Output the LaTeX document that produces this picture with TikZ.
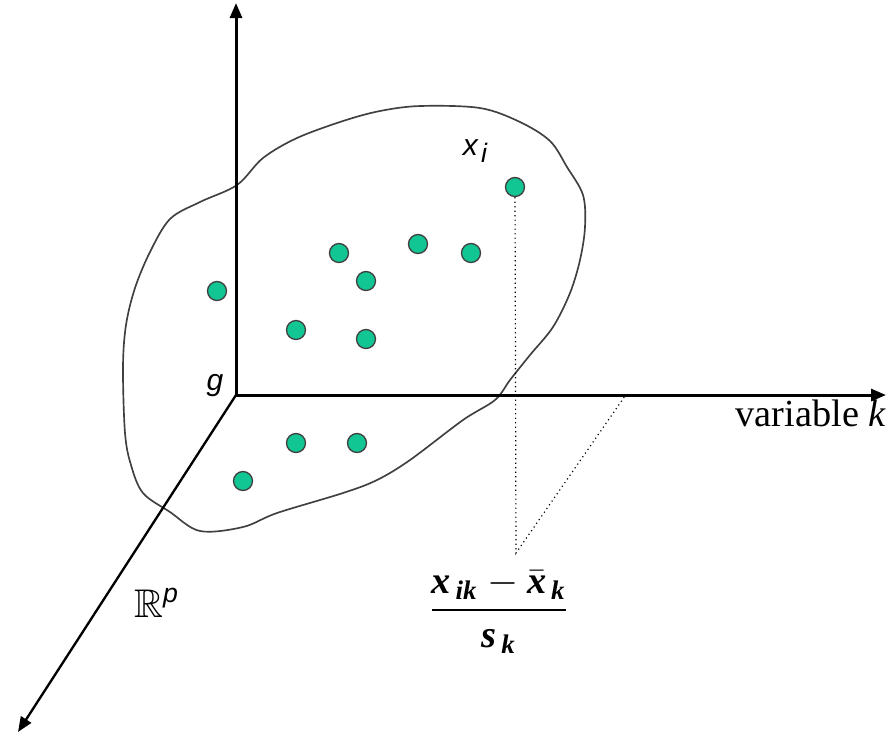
\documentclass[tikz,border=0pt]{standalone}
\usepackage{amsmath,amssymb}
\usepackage{fontspec}
\setmainfont{Liberation Serif}
\setsansfont{Liberation Sans}
\usetikzlibrary{arrows.meta}
\definecolor{dotgreen}{RGB}{18,198,148}
\newcommand{\bix}[1]{\textnormal{\bfseries\itshape #1}}

\begin{document}
\begin{tikzpicture}[x=0.3pt,y=-0.3pt,>={Triangle[length=4.5pt,width=3.6pt]},
  axis/.style={line width=0.9pt},
  pt/.style={circle,draw=black!75,line width=0.4pt,fill=dotgreen,inner sep=0pt,minimum size=5.7pt},
  proj/.style={densely dotted,line width=0.35pt},
  sanslbl/.style={font=\sffamily\itshape\fontsize{9}{10}\selectfont}]
  \useasboundingbox (0,0) rectangle (888,738);
  % the cloud of individuals
  \draw[line width=0.5pt,black!75] plot[smooth cycle,tension=0.55] coordinates {
    (380,111) (420,106) (480,108) (520,122) (550,141) (567,167) (583,195)
    (585,227) (580,260) (570,293) (553,327) (530,355) (510,380) (495,400)
    (463,420) (410,460) (377,480) (343,493) (277,513) (243,527) (200,531)
    (170,512) (143,493) (131,465) (125,433) (123,367) (126,325) (135,288)
    (150,252) (170,219) (200,202) (237,185) (263,158) (297,138) (343,121)};
  % axes
  \coordinate (g) at (236,395);
  \coordinate (ytop) at (236,3);
  \coordinate (xend) at (886,395);
  \coordinate (pend) at (18,732);
  \draw[axis,->] (g) -- (ytop);
  \draw[axis,->] (g) -- (xend);
  \draw[line width=0.7pt,->] (g) -- (pend);
  \node[sanslbl] (glbl) at (215,386) {g};
  \node[font=\fontsize{11.5}{13}\selectfont] (klbl) at (811,413) {variable \textit{k}};
  \node[font=\fontsize{12}{14}\selectfont] (rplbl) at (157,603) {$\mathbb{R}^{\textsf{\itshape p}}$};
  % points
  \node[pt] (xi) at (515,187) {};
  \node[pt] (d1) at (418,244) {};
  \node[pt] (d2) at (471,253) {};
  \node[pt] (d3) at (339,253) {};
  \node[pt] (d4) at (366,281) {};
  \node[pt] (d5) at (217,291) {};
  \node[pt] (d6) at (296,330) {};
  \node[pt] (d7) at (366,339) {};
  \node[pt] (d8) at (296,443) {};
  \node[pt] (d9) at (357,443) {};
  \node[pt] (d10) at (243,481) {};
  \node[sanslbl] (xilbl) at (475,151) {x\hspace{1pt}\raisebox{-0.45ex}{\fontsize{8}{9}\selectfont i}};
  % standardised coordinate
  \coordinate (foot) at (516,553);
  \coordinate (kproj) at (625,396);
  \draw[proj] (xi) -- (foot) -- (kproj);
  \node[font=\fontsize{11.5}{13}\selectfont] (zlbl) at (499,612)
    {$\genfrac{}{}{0.6pt}{0}{\bix{x}_{\,\bix{ik}} - \bar{\bix{x}}_{\,\bix{k}}}{\bix{s}_{\,\bix{k}}}$};
\end{tikzpicture}
\end{document}
